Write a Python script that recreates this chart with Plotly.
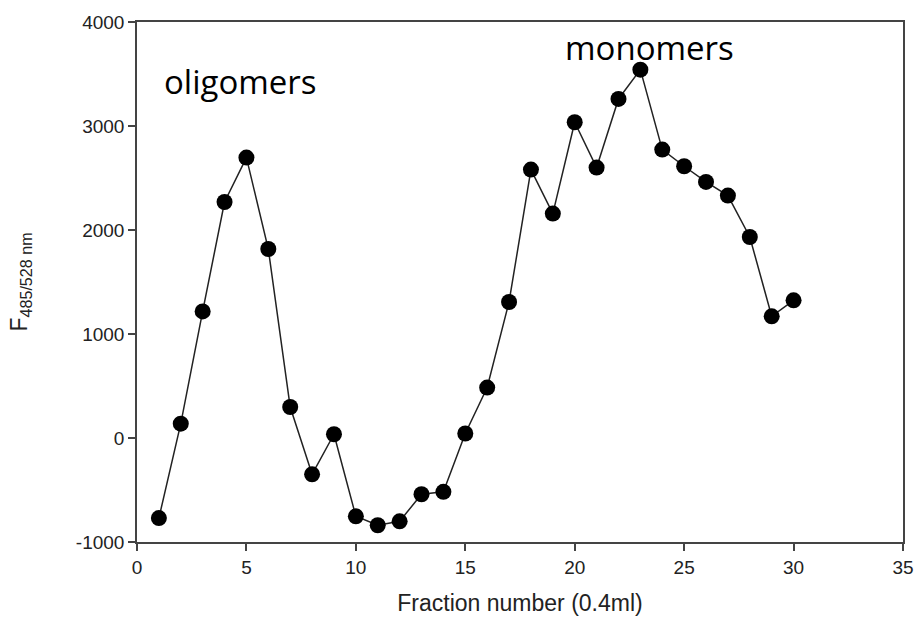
import plotly.graph_objects as go

fraction = list(range(1, 31))
fluor = [-770, 138, 1217, 2269, 2696, 1817, 298, -349, 36, -753,
         -839, -801, -541, -518, 43, 485, 1308, 2581, 2158, 3036,
         2600, 3260, 3542, 2773, 2613, 2462, 2331, 1933, 1170, 1324]

x_ticks = [0, 5, 10, 15, 20, 25, 30, 35]
y_ticks = [-1000, 0, 1000, 2000, 3000, 4000]
y_tick_labels = ["-1000", "0", "1000", "2000", "3000", "4000"]

fig = go.Figure()
fig.add_trace(go.Scatter(
    x=fraction, y=fluor, mode="lines+markers",
    line=dict(color="#222222", width=1.5),
    marker=dict(color="black", size=16),
    showlegend=False,
))

axis_font = dict(family="Liberation Sans, Arial", size=19, color="#222222")
fig.update_layout(
    width=917, height=626,
    margin=dict(l=137, r=14, t=22, b=84),
    plot_bgcolor="white", paper_bgcolor="white",
    xaxis=dict(
        range=[0, 35], tickvals=x_ticks, showgrid=False, zeroline=False,
        showline=True, linecolor="#444444", linewidth=1.5, mirror=True,
        ticks="outside", ticklen=7, tickcolor="#444444", tickwidth=1.5,
        tickfont=axis_font, automargin=False,
        title=dict(text="Fraction number (0.4ml)",
                   font=dict(family="Liberation Sans, Arial", size=23, color="#222222"),
                   standoff=18),
    ),
    yaxis=dict(
        range=[-1000, 4000], tickvals=y_ticks, ticktext=y_tick_labels,
        showgrid=False, zeroline=False,
        showline=True, linecolor="#444444", linewidth=1.5, mirror=True,
        ticks="outside", ticklen=7, tickcolor="#444444", tickwidth=1.5,
        tickfont=axis_font, automargin=False,
        title=dict(text="F<sub>485/528 nm</sub>",
                   font=dict(family="Liberation Sans, Arial", size=23, color="#222222"),
                   standoff=42),
    ),
    annotations=[
        dict(text="oligomers", x=0.032, y=0.933, xref="paper", yref="paper",
             xanchor="left", yanchor="top", showarrow=False,
             font=dict(family="Open Sans", size=33, color="black")),
        dict(text="monomers", x=0.556, y=0.999, xref="paper", yref="paper",
             xanchor="left", yanchor="top", showarrow=False,
             font=dict(family="Open Sans", size=33, color="black")),
    ],
)

fig.write_html("out.html")
